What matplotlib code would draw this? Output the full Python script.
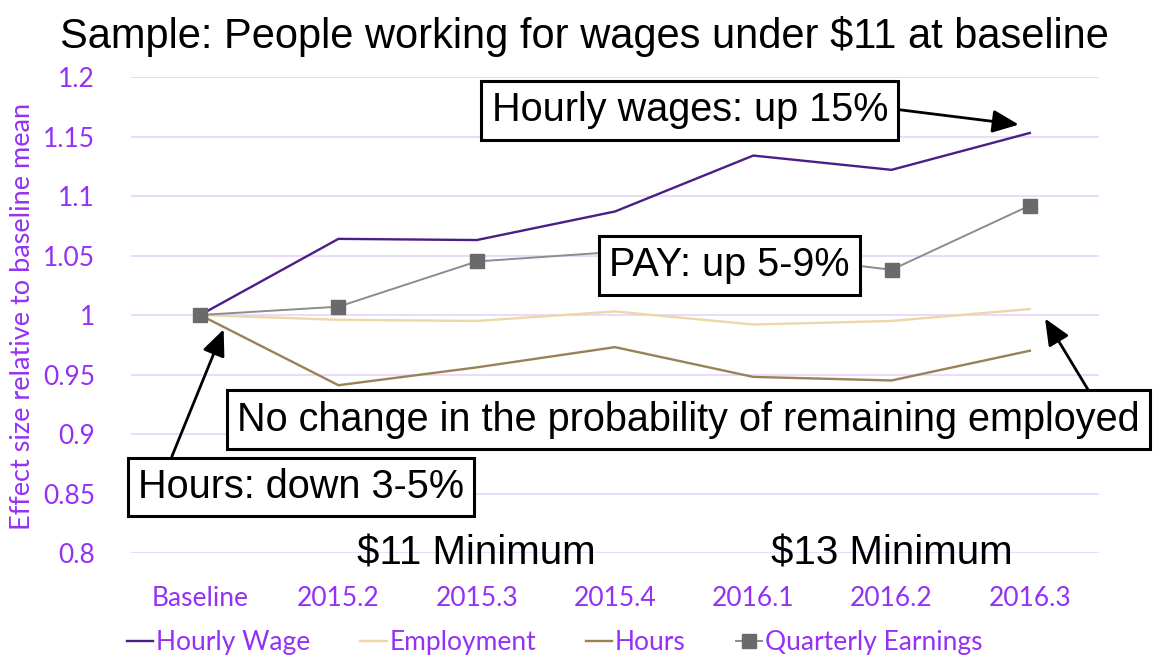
import matplotlib.pyplot as plt
import numpy as np

# data
periods = ['Baseline', '2015.2', '2015.3', '2015.4', '2016.1', '2016.2', '2016.3']
hourly_wage = [1.0, 1.064, 1.063, 1.087, 1.134, 1.122, 1.153]
employment = [1.0, 0.996, 0.995, 1.003, 0.992, 0.995, 1.005]
hours = [1.0, 0.941, 0.956, 0.973, 0.948, 0.945, 0.970]
quarterly_earnings = [1.0, 1.007, 1.045, 1.053, 1.052, 1.038, 1.092]
y_ticks = [0.8, 0.85, 0.9, 0.95, 1.0, 1.05, 1.1, 1.15, 1.2]
y_tick_labels = ['0.8', '0.85', '0.9', '0.95', '1', '1.05', '1.1', '1.15', '1.2']

purple = '#9431F5'
grid_col = '#E8D8FB'
tickfont = ['Lato', 'DejaVu Sans']
boxfont = 'Liberation Sans'

fig = plt.figure(figsize=(11.75, 6.6), dpi=100)
ax = fig.add_axes([0.1115, 0.1621, 0.8238, 0.7212])

x = np.arange(len(periods))
ax.plot(x, hourly_wage, color='#4B1E85', lw=1.7, label='Hourly Wage', zorder=3)
ax.plot(x, employment, color='#EED6A8', lw=1.7, label='Employment', zorder=3)
ax.plot(x, hours, color='#9A8157', lw=1.7, label='Hours', zorder=3)
ax.plot(x, quarterly_earnings, color='#8C8C8C', lw=1.4, marker='s', ms=10,
        mfc='#6A6A6A', mec='#6A6A6A', label='Quarterly Earnings', zorder=3)

ax.set_xlim(-0.5, len(periods) - 0.5)
ax.set_ylim(0.8, 1.2)
ax.set_yticks(y_ticks)
ax.set_yticklabels(y_tick_labels)
ax.set_xticks(x)
ax.set_xticklabels(periods)
for lbl in ax.get_xticklabels() + ax.get_yticklabels():
    lbl.set_family(tickfont)
    lbl.set_fontsize(19)
    lbl.set_color(purple)
ax.tick_params(axis='both', length=0)
ax.tick_params(axis='x', pad=24)
ax.tick_params(axis='y', pad=26)
ax.grid(axis='y', color=grid_col, lw=1.3, zorder=0)
for s in ax.spines.values():
    s.set_visible(False)

fig.text(0.019, 0.52, 'Effect size relative to baseline mean', rotation=90,
         ha='center', va='center', color=purple, fontsize=19.5, family=tickfont)

fig.text(0.497, 0.944, 'Sample: People working for wages under $11 at baseline',
         ha='center', va='center', fontsize=30, family=boxfont)

ax.text(2, 0.8, '$11 Minimum', ha='center', va='center', fontsize=29, family=boxfont, zorder=4)
ax.text(5, 0.8, '$13 Minimum', ha='center', va='center', fontsize=29, family=boxfont, zorder=4)

box = dict(boxstyle='square,pad=0.26', fc='white', ec='black', lw=2.2)
arrow = dict(arrowstyle='-|>,head_length=0.8,head_width=0.35', color='black', lw=2,
             shrinkA=0, shrinkB=0, mutation_scale=20)

ax.annotate('Hourly wages: up 15%', xy=(5.92, 1.160), xycoords='data',
            xytext=(0.587, 0.833), textcoords='figure fraction',
            ha='center', va='center', fontsize=28.5, family=boxfont,
            bbox=box, arrowprops=dict(arrow, relpos=(1, 0.55)), zorder=5)
ax.annotate('PAY: up 5-9%', xy=(0.621, 0.598), xycoords='figure fraction',
            ha='center', va='center', fontsize=28.5, family=boxfont,
            bbox=box, zorder=5)
ax.annotate('No change in the probability of remaining employed', xy=(6.11, 0.997),
            xycoords='data', xytext=(0.586, 0.364), textcoords='figure fraction',
            ha='center', va='center', fontsize=28.5, family=boxfont,
            bbox=box, arrowprops=dict(arrow, relpos=(0.95, 1)), zorder=5)
ax.annotate('Hours: down 3-5%', xy=(0.17, 0.988), xycoords='data',
            xytext=(0.256, 0.262), textcoords='figure fraction',
            ha='center', va='center', fontsize=28.5, family=boxfont,
            bbox=box, arrowprops=dict(arrow, relpos=(0.09, 1)), zorder=5)

leg = fig.legend(loc='center', bbox_to_anchor=(0.472, 0.026), ncol=4, frameon=False,
                 handlelength=1.0, handletextpad=0.1, columnspacing=1.9,
                 prop={'family': tickfont, 'size': 19})
for t in leg.get_texts():
    t.set_color(purple)

fig.savefig('out.png', dpi=100)
